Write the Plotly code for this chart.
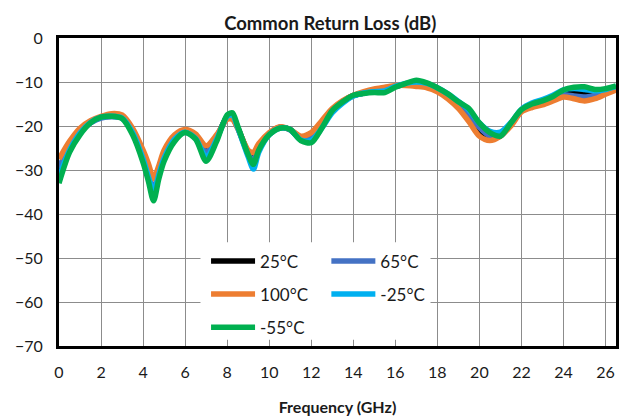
import plotly.graph_objects as go

freq = [0, 0.5, 1, 1.5, 2, 2.5, 3, 3.5, 4, 4.25, 4.5, 4.75, 5, 5.5, 6, 6.5, 7, 7.5, 8, 8.25,
        8.5, 9, 9.25, 9.5, 10, 10.5, 11, 11.5, 12, 12.5, 13, 13.5, 14, 14.5, 15, 15.5, 16, 16.5,
        17, 17.5, 18, 18.5, 19, 19.5, 20, 20.5, 21, 21.5, 22, 22.5, 23, 23.5, 24, 24.5, 25, 25.5,
        26, 26.5]

rl_25 = [-30, -24.5, -21, -19, -18, -17.8, -18, -21, -27, -31, -35, -31, -27, -22.8, -21.2, -22.5,
         -25.5, -22.5, -18, -18, -20.3, -26, -27.5, -25, -21.8, -20.3, -20.8, -23, -22.8, -19.8,
         -16.5, -14.5, -13.1, -12.5, -12, -11.8, -11, -10.5, -10.3, -10.6, -11.7, -13.2, -15.3,
         -17.8, -21, -22.8, -22.3, -19.5, -16.5, -15.3, -14.6, -13.6, -12.2, -12.3, -12.4, -12.4,
         -12, -11.3]

rl_65 = [-29.5, -24.5, -21.2, -19.3, -18.2, -17.9, -18.2, -21.2, -27, -30.5, -34.5, -31, -27, -22.8,
         -21.3, -22.6, -25.8, -22.6, -18.2, -18.2, -20.5, -26.3, -27.8, -25, -21.8, -20.4, -20.9,
         -23, -22.6, -19.6, -16.4, -14.4, -13.1, -12.5, -12, -11.7, -11, -10.5, -10.3, -10.6, -11.6,
         -13, -15, -17.3, -20.3, -22.3, -22.3, -19.5, -16.6, -15.4, -14.7, -13.8, -12.9, -13.2,
         -13.4, -13, -12.4, -11.6]

rl_100 = [-27.5, -23.5, -20.5, -18.8, -17.8, -17.2, -17.5, -20.5, -25.5, -28.5, -32, -29, -25.5, -22,
          -20.8, -21.8, -24.5, -22, -18.5, -18.5, -20.5, -25.5, -26, -24, -21.5, -20.2, -20.8, -22.3,
          -21.5, -18.8, -16, -14.2, -13, -12.2, -11.6, -11.2, -10.8, -10.8, -11, -11.3, -12.2, -13.8,
          -16, -19, -22.3, -23.3, -22.3, -20, -16.8, -15.8, -15.2, -14.3, -13.4, -13.8, -14.3, -13.8,
          -12.8, -11.8]

rl_m25 = [-31.5, -25.5, -21.6, -19.2, -18, -17.8, -18.2, -21.5, -27.5, -31.5, -35, -31, -27.3, -23,
          -21.4, -22.8, -27, -23, -17.8, -17.5, -20.3, -27, -29.8, -26, -22, -20.5, -20.8, -23.2,
          -23.3, -20.5, -17, -14.8, -13.2, -12.5, -12.2, -12, -11, -10.3, -10, -10.3, -11.3, -12.7,
          -14.4, -16.3, -19.3, -21.2, -21.4, -19.2, -16.2, -14.8, -14, -13, -11.8, -11.5, -11.7, -12,
          -11.7, -11]

rl_m55 = [-33, -26, -22, -19.3, -18, -17.8, -18.3, -22, -28.3, -32.5, -37, -32, -28, -23.5, -21.5,
          -23, -28, -23.5, -17.5, -17, -20, -26.5, -28.7, -25.5, -22, -20.5, -20.8, -23.3, -23.8,
          -20.5, -16.5, -14.5, -13, -12.6, -12.4, -12.4, -11.2, -10.3, -9.6, -10.2, -11.3, -12.7,
          -14.5, -16, -19.3, -21.5, -22.3, -19.3, -16.3, -15, -14.3, -13.3, -11.8, -11.2, -11.1,
          -11.7, -11.5, -10.9]

series = [
    ("25°C", rl_25, "#000000", "legend"),
    ("65°C", rl_65, "#4472C4", "legend2"),
    ("100°C", rl_100, "#ED7D31", "legend"),
    ("-25°C", rl_m25, "#00B0F0", "legend2"),
    ("-55°C", rl_m55, "#00B050", "legend"),
]

FONT = "Lato"

fig = go.Figure()
for name, vals, color, leg in series:
    fig.add_trace(go.Scatter(
        x=freq, y=vals, name=name, mode="lines",
        line=dict(color=color, width=5.5, shape="spline", smoothing=0.8),
        legend=leg, legendgroup=name,
    ))

fig.add_shape(type="rect", xref="paper", yref="paper", x0=0.254, x1=0.667, y0=0.02, y1=0.337,
              fillcolor="white", line=dict(width=0), layer="above")

axis_common = dict(
    showline=True, linecolor="black", linewidth=3, mirror=True,
    showgrid=True, gridcolor="#8c8c8c", gridwidth=1.3,
    zeroline=False, automargin=False,
    ticks="outside", tickcolor="rgba(0,0,0,0)",
    tickfont=dict(family=FONT, size=16, color="#1a1a1a"),
)

fig.update_xaxes(range=[0, 26.5], tickvals=list(range(0, 27, 2)), ticklen=10,
                 title=dict(text="<b>Frequency (GHz)</b>", standoff=22,
                            font=dict(family=FONT, size=16, color="#1a1a1a")),
                 **axis_common)
fig.update_yaxes(range=[-70, 0], tickvals=list(range(-70, 1, 10)), ticklen=10, **axis_common)

legend_style = dict(bgcolor="rgba(0,0,0,0)", borderwidth=0, font=dict(family=FONT, size=17, color="#1a1a1a"),
                    xanchor="left", yanchor="top", tracegroupgap=8, orientation="v", itemwidth=44)

fig.update_layout(
    width=644, height=419,
    margin=dict(l=59, r=28, t=38, b=73),
    paper_bgcolor="white", plot_bgcolor="white",
    title=dict(text="<b>Common Return Loss (dB)</b>", x=0.487, xref="paper", xanchor="center",
               y=1 - 24 / 419, yref="container", yanchor="middle",
               font=dict(family=FONT, size=18.5, color="#1a1a1a")),
    legend=dict(x=0.264, y=0.333, **legend_style),
    legend2=dict(x=0.48, y=0.333, **legend_style),
    showlegend=True,
)

fig.write_html("out.html", config={"displayModeBar": False},
               post_script="document.body.style.margin='0';document.body.style.overflow='hidden';")
